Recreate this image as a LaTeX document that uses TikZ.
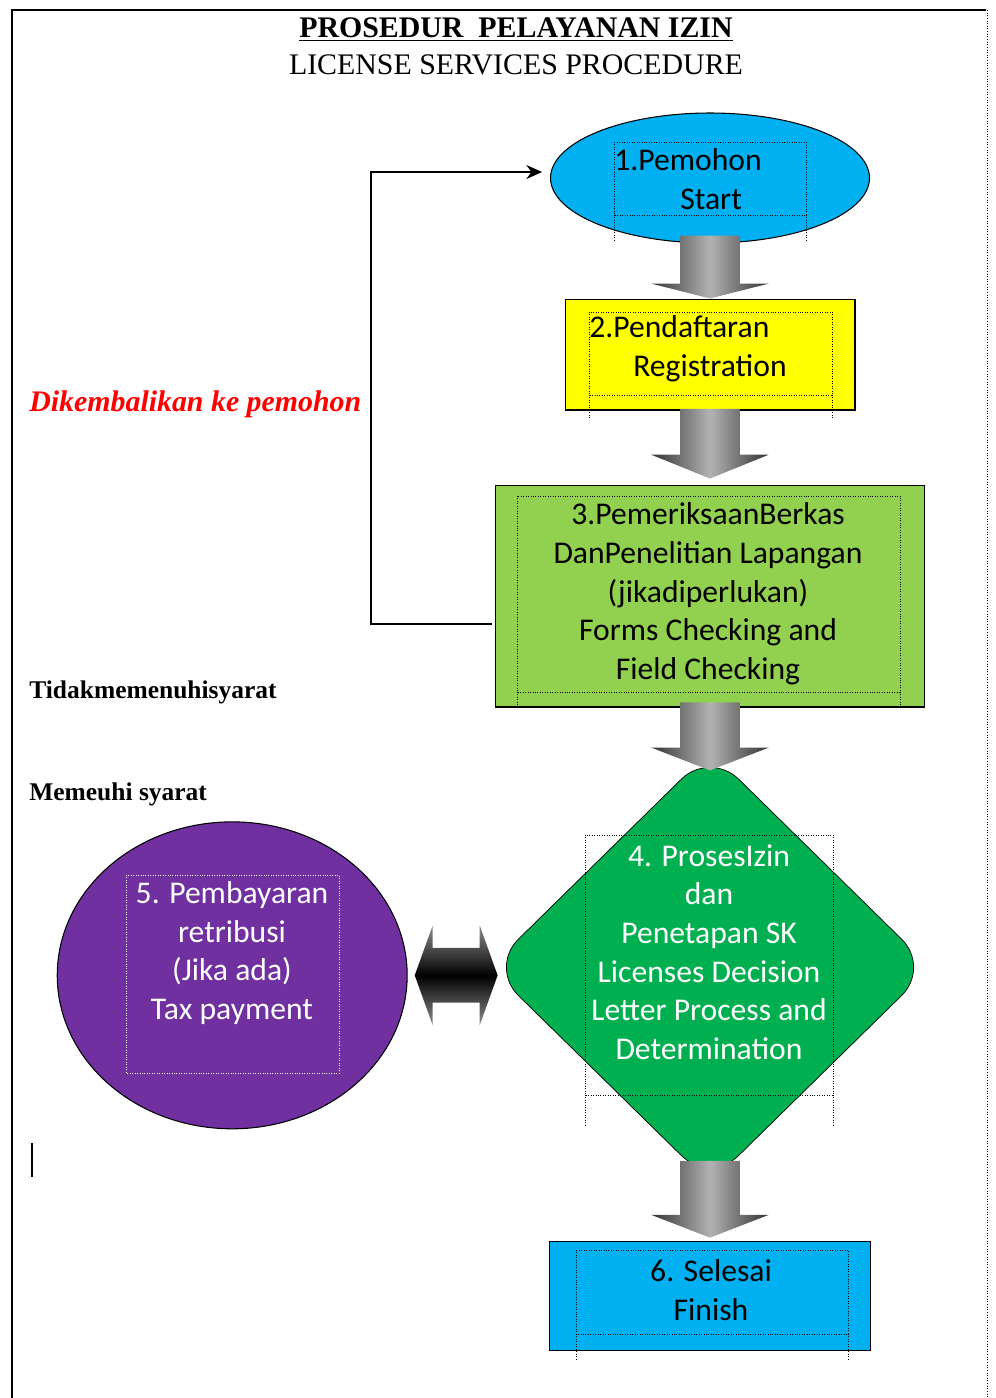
\documentclass[tikz,border=0pt]{standalone}
\usepackage{fontspec}
\setmainfont{Liberation Serif}
\newfontfamily\boxfont{Carlito}
\usetikzlibrary{positioning,arrows.meta,shapes.geometric,calc}

\definecolor{startblue}{HTML}{00B0F0}
\definecolor{regyellow}{HTML}{FFFF00}
\definecolor{checkgreen}{HTML}{92D050}
\definecolor{procgreen}{HTML}{00B050}
\definecolor{paypurple}{HTML}{7030A0}

% grey block arrow: from, to, head length
\newcommand{\blockarrow}[3]{%
  \shade[arrowshade] let \p1=(#1), \p2=(#2) in
    (\x1-17pt,\y1) -- (\x1+17pt,\y1) -- (\x1+17pt,\y2+#3) -- (\x1+33.5pt,\y2+#3)
    -- (\x1,\y2) -- (\x1-33.5pt,\y2+#3) -- (\x1-17pt,\y2+#3) -- cycle;}

\begin{document}
\begin{tikzpicture}[
    x=0.02cm, y=-0.02cm,
    >={Stealth[length=9pt,width=8pt]},
    shapebox/.style={draw, line width=0.6pt, inner sep=0pt},
    boxtext/.style={font=\boxfont\fontsize{18}{22}\selectfont, inner sep=0pt},
    titletext/.style={anchor=base, inner sep=0pt, font=\fontsize{17}{20}\selectfont},
    sidelabel/.style={anchor=base west, inner sep=0pt, font=\bfseries\fontsize{14.5}{17}\selectfont},
    txtframe/.style={densely dotted, line width=0.4pt},
    arrowshade/.style={left color=black!80, right color=black!80, middle color=black!30},
    twinshade/.style={top color=black!45, bottom color=black!45, middle color=black},
    feedback/.style={->, line width=0.9pt}
  ]
    \useasboundingbox (0,0) rectangle (995,1398);
    % page edges
    \draw[line width=1.5pt] (12,1398) -- (12,10) -- (986,10);
    \draw[densely dotted, line width=0.5pt] (987,10) -- (987,1398);
    \draw[line width=1.7pt] (32,1143) -- (32,1177);
    % title
    \node[titletext] (title) at (516,38) {\textbf{\underline{PROSEDUR\ \ PELAYANAN IZIN}}};
    \node[titletext] (subtitle) at (516,75) {LICENSE SERVICES PROCEDURE};
    % side labels
    \node[anchor=base west, inner sep=0pt, text=red, font=\bfseries\itshape\fontsize{17}{20}\selectfont] (returnlabel) at (29,411) {Dikembalikan ke pemohon};
    \node[sidelabel] (faillabel) at (29,698) {Tidakmemenuhisyarat};
    \node[sidelabel] (passlabel) at (29,800) {Memeuhi syarat};
    % steps
    \node[shapebox, ellipse, fill=startblue, minimum width=6.38cm, minimum height=2.6cm] (start) at (710,178) {};
    \node[shapebox, fill=regyellow, minimum width=5.8cm, minimum height=2.22cm, below=1.1cm of start] (reg) {};
    \node[shapebox, fill=checkgreen, minimum width=8.58cm, minimum height=4.44cm, below=1.48cm of reg] (check) {};
    \node[shapebox, diamond, fill=procgreen, line width=0.4pt, rounded corners=0.8cm, minimum width=8.82cm, minimum height=8.66cm, below=0.86cm of check] (proc) {};
    \node[shapebox, ellipse, fill=paypurple, minimum width=7cm, minimum height=6.14cm, left=1.63cm of proc, yshift=-0.16cm] (pay) {};
    \node[shapebox, fill=startblue, minimum width=6.42cm, minimum height=2.18cm, below=1.13cm of proc] (finish) {};
    % arrows
    \blockarrow{[yshift=4.5pt]start.south}{reg.north}{8.5pt}
    \blockarrow{[yshift=1pt]reg.south}{[yshift=3.4pt]check.north}{13.6pt}
    \blockarrow{[yshift=3pt]check.south}{[yshift=-11.3pt]proc.north}{13pt}
    \blockarrow{[yshift=13.3pt]proc.south}{[yshift=1.7pt]finish.north}{13pt}
    \shade[twinshade] let \p1=([xshift=4pt]pay.east), \p2=([xshift=4.8pt]proc.west) in
      (\x1,\y1) -- (\x1+10.2pt,\y1+28.4pt) -- (\x1+10.2pt,\y1+15.6pt) -- (\x2-10.2pt,\y1+15.6pt)
      -- (\x2-10.2pt,\y1+28.4pt) -- (\x2,\y1) -- (\x2-10.2pt,\y1-28.4pt) -- (\x2-10.2pt,\y1-15.6pt)
      -- (\x1+10.2pt,\y1-15.6pt) -- (\x1+10.2pt,\y1-28.4pt) -- cycle;
    \draw[feedback] ([xshift=-1.7pt,yshift=-15.9pt]check.west) -- ++(-121,0) |- ([xshift=-4.5pt,yshift=3.4pt]start.west);
    % text frames
    \foreach \xa/\ya/\xb/\yb/\ye in {614/142/806/215/240, 589/312/832/395/418, 517/496/900/692/705, 585/835/833/1095/1125, 576/1250/848/1334/1360}
      \draw[txtframe] (\xa,\ya) rectangle (\xb,\yb) (\xa,\yb) -- (\xa,\ye) (\xb,\yb) -- (\xb,\ye);
    \draw[txtframe, white] (126,875) rectangle (339,1073);
    % texts
    \node[boxtext, anchor=west, align=left] (starttext) at (614,179) {1.Pemohon\\\hspace*{1.32cm}Start};
    \node[boxtext, anchor=west, align=left] (regtext) at (589,349) {2.Pendaftaran\\\hspace*{0.88cm}Registration};
    \node[boxtext, align=center] (checktext) at (708,594) {3.PemeriksaanBerkas\\DanPenelitian Lapangan\\(jikadiperlukan)\\Forms Checking and\\Field Checking};
    \node[boxtext, align=center, text=white] (proctext) at (709,952) {4. ProsesIzin\\dan\\Penetapan SK\\Licenses Decision\\Letter Process and\\Determination};
    \node[boxtext, align=center, text=white] (paytext) at (232,953) {5. Pembayaran\\retribusi\\(Jika ada)\\Tax payment};
    \node[boxtext, align=center] (finishtext) at (711,1290) {6. Selesai\\Finish};
  \end{tikzpicture}
\end{document}
